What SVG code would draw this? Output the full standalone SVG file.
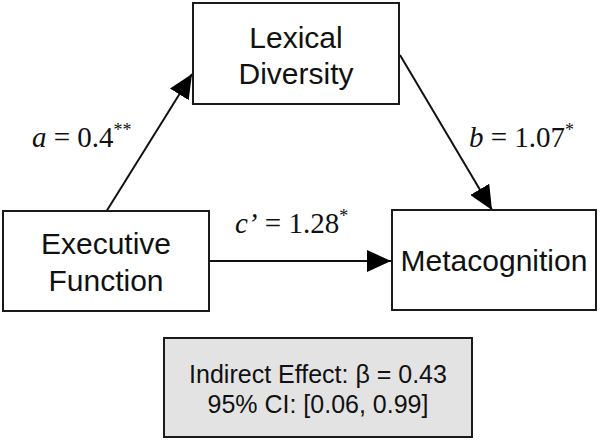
<svg xmlns="http://www.w3.org/2000/svg" width="600" height="441" viewBox="0 0 600 441">
<style>
.box{fill:#fff;stroke:#1a1a1a;stroke-width:2}
.gray{fill:#e3e3e3;stroke:#1a1a1a;stroke-width:2}
.nt{font-family:"Liberation Sans",Arial,sans-serif;font-size:30px;fill:#111;text-anchor:middle}
.it{font-family:"Liberation Sans",Arial,sans-serif;font-size:25px;fill:#111;text-anchor:middle}
.lb{font-family:"Liberation Serif","Times New Roman",serif;font-size:29px;fill:#111}
.sup{font-size:18px}
.ln{stroke:#111;stroke-width:2;fill:none;marker-end:url(#ah)}
</style>
<defs>
<marker id="ah" markerWidth="24" markerHeight="22" refX="24" refY="11" orient="auto" markerUnits="userSpaceOnUse">
<path d="M0,0 L24,11 L0,22 Z" fill="#000"/>
</marker>
</defs>
<g id="connectors">
<line class="ln" x1="106" y1="212" x2="192" y2="74"/>
<line class="ln" x1="400" y1="55" x2="492" y2="210"/>
<line class="ln" x1="209" y1="261" x2="391" y2="261"/>
</g>
<g id="lexical">
<rect class="box" x="193" y="3" width="206" height="101"/>
<text class="nt" x="296" y="48">Lexical</text>
<text class="nt" x="296" y="84">Diversity</text>
</g>
<g id="executive">
<rect class="box" x="3" y="211" width="206" height="100"/>
<text class="nt" x="106" y="254">Executive</text>
<text class="nt" x="106" y="291">Function</text>
</g>
<g id="metacognition">
<rect class="box" x="392" y="210" width="204" height="100"/>
<text class="nt" x="494" y="271">Metacognition</text>
</g>
<g id="indirect">
<rect class="gray" x="164" y="338" width="308" height="99"/>
<text class="it" x="318" y="383">Indirect Effect: β = 0.43</text>
<text class="it" x="318" y="413">95% CI: [0.06, 0.99]</text>
</g>
<g id="labels">
<text class="lb" x="32" y="147"><tspan font-style="italic">a</tspan> = 0.4<tspan class="sup" dy="-11">**</tspan></text>
<text class="lb" x="469" y="147"><tspan font-style="italic">b</tspan> = 1.07<tspan class="sup" dy="-11">*</tspan></text>
<text class="lb" x="235" y="233"><tspan font-style="italic">c’</tspan> = 1.28<tspan class="sup" dy="-11">*</tspan></text>
</g>
</svg>
